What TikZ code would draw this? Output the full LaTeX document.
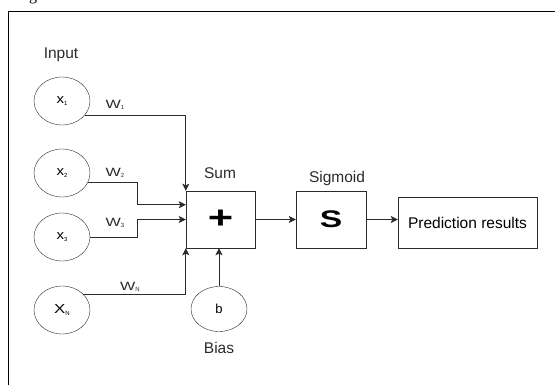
\documentclass[tikz,border=0pt]{standalone}
\usepackage{fontspec}
\setmainfont{Liberation Sans}
\newfontfamily\capfont{Liberation Serif}
\usepackage{tikz}
\usetikzlibrary{arrows.meta,shapes.geometric,positioning}
\definecolor{ink}{HTML}{2B2B2B}
\newcommand{\lowidx}[1]{\raisebox{-0.25ex}{\fontsize{6}{6}\selectfont #1}}
\newcommand{\wideW}{\scalebox{1.35}[1]{W}}

\begin{document}
\begin{tikzpicture}[x=1pt,y=-1pt,
  unit/.style={draw=ink,ellipse,minimum width=56pt,minimum height=48pt,inner sep=0pt,font=\fontsize{13}{15}\selectfont},
  opbox/.style={draw=ink,rectangle,minimum width=69pt,minimum height=57pt,inner sep=0pt},
  lbl/.style={text=ink,font=\fontsize{15.5}{18}\selectfont},
  wlbl/.style={text=ink,font=\fontsize{12}{14}\selectfont},
  conn/.style={draw=ink,line width=0.8pt,-{Stealth[length=7pt,width=7pt,inset=1.5pt]}}]
  \useasboundingbox (0,0) rectangle (555,385);
  % frame and cut caption
  \node[anchor=base,font=\capfont\fontsize{16}{18}\selectfont] (cap) at (33,1) {g};
  \draw[black,line width=0.9pt] (555,11) -- (8,11) -- (8,390);
  % inputs
  \node[lbl] (inp) at (61,55) {Input};
  \node[unit] (x1) at (62,101) {\scalebox{1.15}[1]{x}\lowidx{1}};
  \node[unit] (x2) at (62,173) {\scalebox{1.15}[1]{x}\lowidx{2}};
  \node[unit] (x3) at (62,237) {\scalebox{1.15}[1]{x}\lowidx{3}};
  \node[unit] (xN) at (62,310) {\scalebox{1.3}[1]{X}\lowidx{N}};
  \node[unit,minimum height=45pt] (b) at (219,309) {b};
  \node[lbl] (bias) at (219,348) {Bias};
  % operators
  \node[opbox] (sum) at (220.5,219.5) {\scalebox{1.45}[1.05]{\bfseries\fontsize{30}{30}\selectfont +}};
  \node[lbl] (sumlbl) at (220,173) {Sum};
  \node[opbox,minimum width=70pt] (sig) at (331,219.5) {\scalebox{1.4}[1]{\bfseries\fontsize{24}{24}\selectfont S}};
  \node[lbl] (siglbl) at (337,178) {Sigmoid};
  \node[opbox,minimum width=139pt,minimum height=51pt] (pred) at (467.5,222.5) {\fontsize{15.5}{18}\selectfont Prediction results};
  % weights
  \node[wlbl] (w1) at (115,105) {\wideW\lowidx{1}};
  \node[wlbl] (w2) at (115,173) {\wideW\lowidx{2}};
  \node[wlbl] (w3) at (115,223) {\wideW\lowidx{3}};
  \node[wlbl] (wN) at (130,287) {\wideW\lowidx{N}};
  % connectors
  \draw[conn] (x1.-32) -| (sum.north west);
  \draw[conn] (x2.-21) -- ++(50,0) |- (sum.157);
  \draw[conn] (x3.east) -- ++(47,0) |- (sum.west);
  \draw[conn] (xN.37) -| (sum.south west);
  \draw[conn] (b.north) -- (b.north |- sum.south);
  \draw[conn] (sum.east) -- (sig.west);
  \draw[conn] (sig.east) -- (sig.east -| pred.west);
\end{tikzpicture}
\end{document}
